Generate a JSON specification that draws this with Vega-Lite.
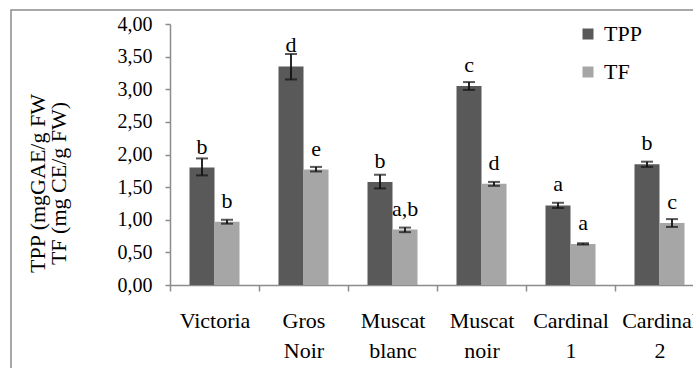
{
  "$schema": "https://vega.github.io/schema/vega-lite/v6.json",
  "autosize": "none",
  "padding": {"left": 11, "top": 10, "right": 0, "bottom": 0},
  "width": 682,
  "height": 358,
  "background": "white",
  "config": {
    "view": {"stroke": "#8c8c8c", "strokeWidth": 1.5, "strokeDash": [682, 1040, 358]},
    "font": "Liberation Serif",
    "axis": {"grid": false, "domainColor": "#8c8c8c", "tickColor": "#8c8c8c", "domainWidth": 1.5, "tickWidth": 1.5, "labelColor": "#000000", "titleColor": "#000000", "labelFont": "Liberation Serif", "titleFont": "Liberation Serif"},
    "legend": {"labelFont": "Liberation Serif"}
  },
  "data": {
    "values": [
      {"variety": "Victoria", "measure": "TPP", "mean": 1.80, "lo": 1.68, "hi": 1.94, "letter": "b"},
      {"variety": "Victoria", "measure": "TF", "mean": 0.97, "lo": 0.94, "hi": 1.00, "letter": "b"},
      {"variety": "Gros Noir", "measure": "TPP", "mean": 3.35, "lo": 3.15, "hi": 3.54, "letter": "d"},
      {"variety": "Gros Noir", "measure": "TF", "mean": 1.77, "lo": 1.74, "hi": 1.81, "letter": "e"},
      {"variety": "Muscat blanc", "measure": "TPP", "mean": 1.58, "lo": 1.48, "hi": 1.69, "letter": "b"},
      {"variety": "Muscat blanc", "measure": "TF", "mean": 0.85, "lo": 0.81, "hi": 0.88, "letter": "a,b"},
      {"variety": "Muscat noir", "measure": "TPP", "mean": 3.05, "lo": 2.99, "hi": 3.11, "letter": "c"},
      {"variety": "Muscat noir", "measure": "TF", "mean": 1.55, "lo": 1.52, "hi": 1.58, "letter": "d"},
      {"variety": "Cardinal 1", "measure": "TPP", "mean": 1.22, "lo": 1.18, "hi": 1.26, "letter": "a"},
      {"variety": "Cardinal 1", "measure": "TF", "mean": 0.63, "lo": 0.62, "hi": 0.64, "letter": "a"},
      {"variety": "Cardinal 2", "measure": "TPP", "mean": 1.85, "lo": 1.81, "hi": 1.89, "letter": "b"},
      {"variety": "Cardinal 2", "measure": "TF", "mean": 0.95, "lo": 0.89, "hi": 1.01, "letter": "c"}
    ]
  },
  "encoding": {
    "x": {
      "field": "variety", "type": "nominal", "sort": null,
      "scale": {"range": [159, 693], "paddingInner": 0, "paddingOuter": 0},
      "axis": {"title": null, "tickBand": "extent", "labelAngle": 0, "labelExpr": "split(datum.label, ' ')", "labelFontSize": 22, "labelLineHeight": 30, "labelBaseline": "top", "labelPadding": 19, "tickSize": 6, "offset": -83}
    },
    "xOffset": {"field": "measure", "type": "nominal", "sort": ["TPP", "TF"], "scale": {"paddingInner": 0, "paddingOuter": 0.78}}
  },
  "layer": [
    {
      "mark": {"type": "bar"},
      "encoding": {
        "y": {
          "field": "mean", "type": "quantitative",
          "scale": {"domain": [0, 4], "range": [275, 14], "nice": false, "zero": true},
          "axis": {
            "title": ["TPP (mgGAE/g FW", "TF (mg CE/g  FW)"],
            "values": [0, 0.5, 1, 1.5, 2, 2.5, 3, 3.5, 4],
            "labelExpr": "replace(format(datum.value, '.2f'), '.', ',')",
            "labelFontSize": 20, "labelPadding": 13, "tickSize": 5, "offset": -159,
            "titleFontSize": 22, "titleFontWeight": "normal", "titleLineHeight": 21,
            "titleAngle": -90, "titleAlign": "center", "titleBaseline": "middle",
            "titleX": -133, "titleY": 173
          }
        },
        "color": {
          "field": "measure", "type": "nominal",
          "scale": {"domain": ["TPP", "TF"], "range": ["#595959", "#a6a6a6"]},
          "legend": {"title": null, "orient": "none", "legendX": 566, "legendY": 13, "symbolType": "square", "symbolSize": 121, "symbolStrokeWidth": 0, "labelFontSize": 22, "labelFont": "Liberation Serif", "labelColor": "#000000", "labelOffset": 5, "rowPadding": 16, "padding": 0}
        }
      }
    },
    {
      "mark": {"type": "rule", "color": "#111111", "strokeWidth": 1.8},
      "encoding": {"y": {"field": "lo", "type": "quantitative"}, "y2": {"field": "hi"}}
    },
    {
      "mark": {"type": "tick", "color": "#111111", "thickness": 2, "size": 12},
      "encoding": {"y": {"field": "lo", "type": "quantitative"}}
    },
    {
      "mark": {"type": "tick", "color": "#111111", "thickness": 2, "size": 12},
      "encoding": {"y": {"field": "hi", "type": "quantitative"}}
    },
    {
      "mark": {"type": "text", "dy": -14, "baseline": "alphabetic", "align": "center", "fontSize": 22, "font": "Liberation Serif", "color": "#000000"},
      "encoding": {"y": {"field": "mean", "type": "quantitative"}, "text": {"field": "letter"}}
    }
  ]
}
